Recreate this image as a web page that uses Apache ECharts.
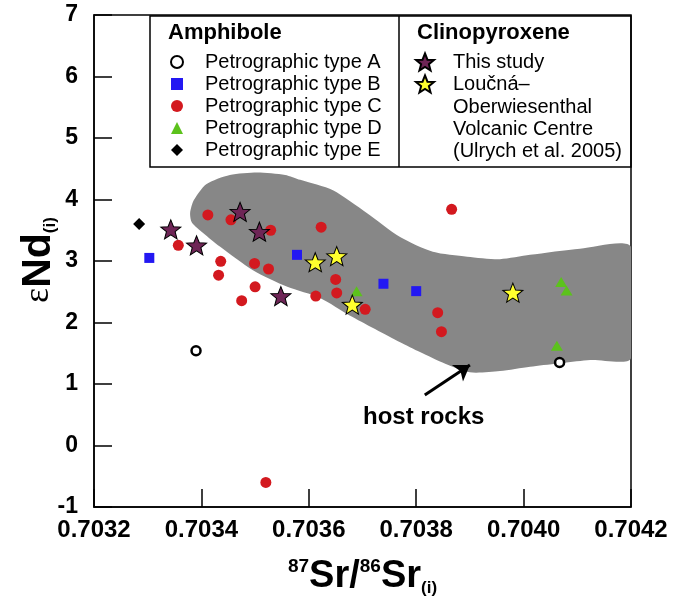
<!DOCTYPE html>
<html>
<head>
<meta charset="utf-8">
<script src="https://cdn.jsdelivr.net/npm/echarts@6/dist/echarts.min.js"></script>
<style>
  html, body { margin: 0; padding: 0; background: #fff; }
  #chart { width: 673px; height: 604px; }
</style>
</head>
<body>
<div id="chart"></div>
<script>
// amphibole, by petrographic type  [87Sr/86Sr(i), eNd(i)]
const typeA = [[0.70339, 1.54], [0.704067, 1.35]];
const typeB = [[0.703303, 3.05], [0.703578, 3.10], [0.703739, 2.63], [0.7038, 2.51]];
const typeC = [
  [0.703412, 3.75], [0.703455, 3.67], [0.703529, 3.50], [0.703357, 3.255],
  [0.703436, 2.995], [0.703432, 2.77], [0.703499, 2.96], [0.703525, 2.87],
  [0.7035, 2.58], [0.703475, 2.355], [0.703613, 2.43], [0.703623, 3.55],
  [0.703866, 3.84], [0.70365, 2.70], [0.703652, 2.48], [0.703705, 2.215],
  [0.70384, 2.16], [0.703847, 1.85], [0.70352, -0.60]
];
const typeD = [[0.703689, 2.51], [0.70407, 2.66], [0.70408, 2.52], [0.704062, 1.62]];
const typeE = [[0.703284, 3.60]];

// clinopyroxene
const cpxThisStudy = [[0.703343, 3.515], [0.703391, 3.255], [0.703472, 3.80], [0.703508, 3.476], [0.703548, 2.43]];
const cpxUlrych = [[0.703612, 2.98], [0.703652, 3.08], [0.703681, 2.29], [0.70398, 2.485]];

// outline of the host rocks field
const hostRocks = [
  [0.703379, 3.78], [0.703386, 3.99], [0.703409, 4.25], [0.703453, 4.40], [0.703504, 4.44],
  [0.703556, 4.40], [0.703584, 4.32], [0.703645, 4.15], [0.703708, 3.78], [0.70377, 3.39],
  [0.703831, 3.15], [0.703895, 3.07], [0.703956, 3.03], [0.704012, 3.10], [0.704105, 3.20],
  [0.7042, 3.23], [0.7042, 1.42], [0.704124, 1.39], [0.704012, 1.28], [0.703956, 1.21],
  [0.7039, 1.19], [0.703854, 1.33], [0.703807, 1.52], [0.70377, 1.68], [0.703677, 2.11],
  [0.703621, 2.40], [0.70356, 2.58], [0.703496, 2.85], [0.703435, 3.23], [0.703397, 3.50],
  [0.703382, 3.63]
];
const arrowFrom = [0.703816, 0.82];
const arrowTo = [0.7039, 1.31];
const hostLabelAt = [0.703814, 0.45];

const FONT = 'Liberation Sans, Arial, sans-serif';
const STAR = 'path://M0,-10L2.6,-3.4L9.5,-3.1L4.1,1.3L5.9,8.1L0,4.3L-5.9,8.1L-4.1,1.3L-9.5,-3.1L-2.6,-3.4Z';

const chart = echarts.init(document.getElementById('chart'));

const option = {
  animation: false,
  grid: { left: 94, right: 42, top: 15, bottom: 97, show: true, borderColor: '#000', borderWidth: 1.5 },
  xAxis: {
    type: 'value',
    min: 0.7032, max: 0.7042, interval: 0.0002,
    axisLine: { onZero: false, lineStyle: { color: '#000', width: 1.5 } },
    axisTick: { inside: true, length: 18, lineStyle: { color: '#000', width: 1.5 } },
    splitLine: { show: false },
    axisLabel: {
      margin: 11, color: '#000', fontSize: 24, fontWeight: 'bold', fontFamily: FONT,
      formatter: v => v.toFixed(4)
    },
    name: '{sup|87}{big|Sr/}{sup|86}{big|Sr}{sub|(i)}',
    nameLocation: 'middle',
    nameGap: 50,
    nameTextStyle: {
      rich: {
        big: { fontSize: 38, fontWeight: 'bold', fontFamily: FONT, color: '#000', lineHeight: 40 },
        sup: { fontSize: 19, fontWeight: 'bold', fontFamily: FONT, color: '#000', lineHeight: 20, verticalAlign: 'top' },
        sub: { fontSize: 17, fontWeight: 'bold', fontFamily: FONT, color: '#000', lineHeight: 16, verticalAlign: 'bottom' }
      }
    }
  },
  yAxis: {
    type: 'value',
    min: -1, max: 7, interval: 1,
    axisLine: { onZero: false, lineStyle: { color: '#000', width: 1.5 } },
    axisTick: { inside: true, length: 18, lineStyle: { color: '#000', width: 1.5 } },
    splitLine: { show: false },
    axisLabel: { margin: 16, color: '#000', fontSize: 23, fontWeight: 'bold', fontFamily: FONT },
    name: '{eps|ε}{nd|Nd}{sub|(i)}',
    nameLocation: 'middle',
    nameRotate: 90,
    nameGap: 35,
    nameMoveOverlap: false,
    nameTextStyle: {
      padding: [0, 0, 0, 2],
      rich: {
        eps: { fontSize: 36, fontFamily: 'Liberation Serif, serif', color: '#000', lineHeight: 40 },
        nd: { fontSize: 41, fontWeight: 'bold', fontFamily: FONT, color: '#000', lineHeight: 40 },
        sub: { fontSize: 17, fontWeight: 'bold', fontFamily: FONT, color: '#000', lineHeight: 16, verticalAlign: 'bottom' }
      }
    }
  },
  legend: [
    {
      data: ['Petrographic type A', 'Petrographic type B', 'Petrographic type C', 'Petrographic type D', 'Petrographic type E'],
      orient: 'vertical', left: 170, top: 51, padding: 0, itemGap: 0,
      itemWidth: 12, itemHeight: 12,
      textStyle: { fontSize: 20, fontFamily: FONT, color: '#000', lineHeight: 22, padding: [0, 0, 0, 17] }
    },
    {
      data: ['This study', 'Loučná–Oberwiesenthal Volcanic Centre (Ulrych et al. 2005)'],
      orient: 'vertical', left: 415, top: 51, padding: 0, itemGap: 0,
      itemWidth: 18, itemHeight: 18,
      formatter: n => n.startsWith('Lou') ? 'Loučná–' : n,
      textStyle: { fontSize: 20, fontFamily: FONT, color: '#000', lineHeight: 22, padding: [0, 0, 0, 14] }
    }
  ],
  graphic: [
    { type: 'rect', shape: { x: 150, y: 16, width: 481, height: 151 }, style: { fill: 'none', stroke: '#000', lineWidth: 1.5 }, z: 100 },
    { type: 'line', shape: { x1: 399, y1: 16, x2: 399, y2: 167 }, style: { stroke: '#000', lineWidth: 1.5 }, z: 100 },
    { type: 'text', left: 168, top: 22, style: { text: 'Amphibole', font: 'bold 22px ' + FONT, fill: '#000' }, z: 100 },
    { type: 'text', left: 417, top: 22, style: { text: 'Clinopyroxene', font: 'bold 22px ' + FONT, fill: '#000' }, z: 100 },
    { type: 'text', left: 453, top: 96, style: { text: 'Oberwiesenthal\nVolcanic Centre\n(Ulrych et al. 2005)', font: '20px ' + FONT, lineHeight: 22, fill: '#000' }, z: 100 }
  ],
  series: [
    {
      type: 'custom',
      name: 'host rocks',
      data: hostRocks,
      clip: true,
      silent: true,
      z: 1,
      renderItem: (params, api) => {
        if (params.dataIndex !== 0) return null;
        return {
          type: 'polygon',
          shape: { points: hostRocks.map(p => api.coord(p)), smooth: 0.25 },
          style: { fill: '#878787', stroke: 'none' }
        };
      },
      markLine: {
        silent: true,
        symbol: ['none', 'arrow'],
        symbolSize: 15,
        lineStyle: { color: '#000', width: 3, type: 'solid' },
        label: { show: false },
        data: [[{ coord: arrowFrom }, { coord: arrowTo }]]
      },
      markPoint: {
        silent: true,
        symbol: 'circle', symbolSize: 0,
        label: { show: true, formatter: 'host rocks', fontSize: 24, fontWeight: 'bold', fontFamily: FONT, color: '#000' },
        data: [{ coord: hostLabelAt }]
      }
    },
    {
      type: 'scatter', name: 'Petrographic type A', data: typeA, z: 3,
      symbol: 'circle', symbolSize: 9,
      itemStyle: { color: '#fff', borderColor: '#000', borderWidth: 2.5, opacity: 1 }
    },
    {
      type: 'scatter', name: 'Petrographic type B', data: typeB, z: 3,
      symbol: 'rect', symbolSize: 10,
      itemStyle: { color: '#2318f2', opacity: 1 }
    },
    {
      type: 'scatter', name: 'Petrographic type C', data: typeC, z: 3,
      symbol: 'circle', symbolSize: 11,
      itemStyle: { color: '#d3191f', opacity: 1 }
    },
    {
      type: 'scatter', name: 'Petrographic type D', data: typeD, z: 3,
      symbol: 'triangle', symbolSize: [12, 10],
      itemStyle: { color: '#5cc21c', opacity: 1 }
    },
    {
      type: 'scatter', name: 'Petrographic type E', data: typeE, z: 3,
      symbol: 'diamond', symbolSize: 12,
      itemStyle: { color: '#000', opacity: 1 }
    },
    {
      type: 'scatter', name: 'This study', data: cpxThisStudy, z: 4,
      symbol: STAR, symbolSize: [20, 19],
      itemStyle: { color: '#6e2556', borderColor: '#000', borderWidth: 1, opacity: 1 }
    },
    {
      type: 'scatter', name: 'Loučná–Oberwiesenthal Volcanic Centre (Ulrych et al. 2005)', data: cpxUlrych, z: 4,
      symbol: STAR, symbolSize: [20, 19],
      itemStyle: { color: '#ffff2e', borderColor: '#000', borderWidth: 1, opacity: 1 }
    }
  ]
};

chart.setOption(option);
</script>
</body>
</html>
